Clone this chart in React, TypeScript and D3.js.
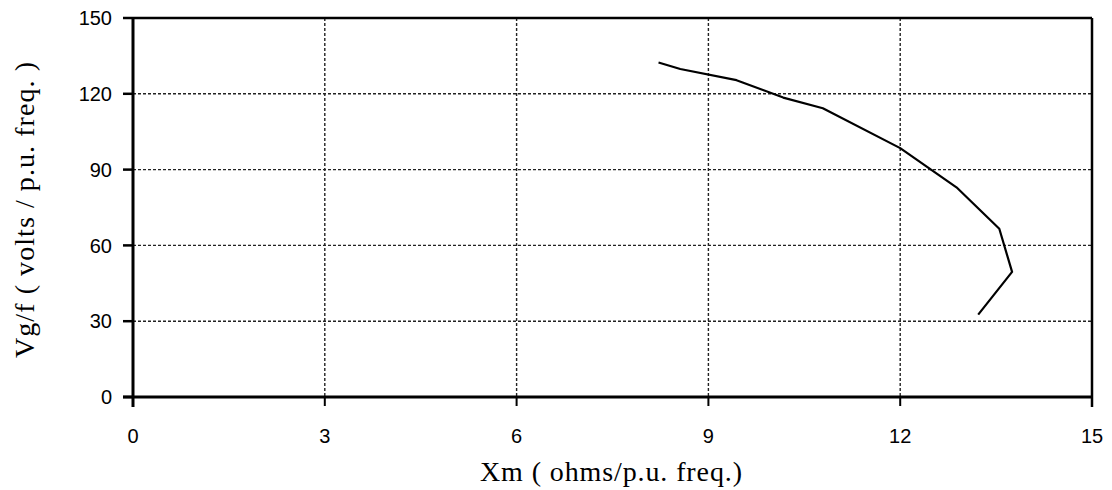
import React from "react";
import * as d3 from "d3";

const xmValues = [8.22, 8.56, 9.44, 10.17, 10.79, 12.0, 12.88, 13.55, 13.75, 13.22];
const vgfValues = [132.4, 129.8, 125.4, 118.5, 114.3, 98.5, 83.0, 66.6, 49.5, 32.6];
const xTicks = [0, 3, 6, 9, 12, 15];
const yTicks = [0, 30, 60, 90, 120, 150];
const xTitle = "Xm ( ohms/p.u. freq.)";
const yTitle = "Vg/f ( volts / p.u. freq. )";

export default function App() {
  const W = 1112, H = 490;
  const x = d3.scaleLinear().domain([0, 15]).range([133, 1092]);
  const y = d3.scaleLinear().domain([0, 150]).range([397, 18]);
  const pts = xmValues.map((v, i) => [v, vgfValues[i]] as [number, number]);
  const line = d3.line<[number, number]>().x(d => x(d[0])).y(d => y(d[1]));
  const sans = "Liberation Sans, Arial, sans-serif";
  const serif = "Liberation Serif, Times New Roman, serif";
  return (
    <svg width={W} height={H} style={{ position: "absolute", left: 0, top: 0, background: "#fff" }}>
      {xTicks.filter(t => t > 0 && t < 15).map(t => (
        <line key={"gx" + t} x1={x(t)} x2={x(t)} y1={y(150)} y2={y(0)} stroke="#222" strokeWidth={1.4} strokeDasharray="3,2" />
      ))}
      {yTicks.filter(t => t > 0 && t < 150).map(t => (
        <line key={"gy" + t} x1={x(0)} x2={x(15)} y1={y(t)} y2={y(t)} stroke="#222" strokeWidth={1.4} strokeDasharray="3,2" />
      ))}
      <line x1={x(0)} x2={x(15)} y1={y(150)} y2={y(150)} stroke="#000" strokeWidth={2.5} />
      <line x1={x(15)} x2={x(15)} y1={y(150)} y2={y(0) + 10} stroke="#000" strokeWidth={2.5} />
      <line x1={x(0)} x2={x(0)} y1={y(150)} y2={y(0) + 10} stroke="#000" strokeWidth={3} />
      <line x1={x(0) - 10} x2={x(15)} y1={y(0)} y2={y(0)} stroke="#000" strokeWidth={3} />
      {yTicks.map(t => (
        <g key={"ty" + t}>
          <line x1={x(0) - 10} x2={x(0)} y1={y(t)} y2={y(t)} stroke="#000" strokeWidth={2.5} />
          <text x={x(0) - 21} y={y(t)} dy="0.36em" textAnchor="end" fontFamily={sans} fontSize={20} fill="#000">{t}</text>
        </g>
      ))}
      {xTicks.map(t => (
        <g key={"tx" + t}>
          <line x1={x(t)} x2={x(t)} y1={y(0)} y2={y(0) + 9} stroke="#000" strokeWidth={2} />
          <text x={x(t)} y={436} dy="0.36em" textAnchor="middle" fontFamily={sans} fontSize={20} fill="#000">{t}</text>
        </g>
      ))}
      <path d={line(pts) || ""} fill="none" stroke="#000" strokeWidth={2.2} strokeLinejoin="round" />
      <text x={480} y={481} fontFamily={serif} fontSize={28} fill="#000" textLength={262} lengthAdjust="spacing">{xTitle}</text>
      <text transform={`translate(34,358) rotate(-90)`} fontFamily={serif} fontSize={28} fill="#000" textLength={296} lengthAdjust="spacing">{yTitle}</text>
    </svg>
  );
}
